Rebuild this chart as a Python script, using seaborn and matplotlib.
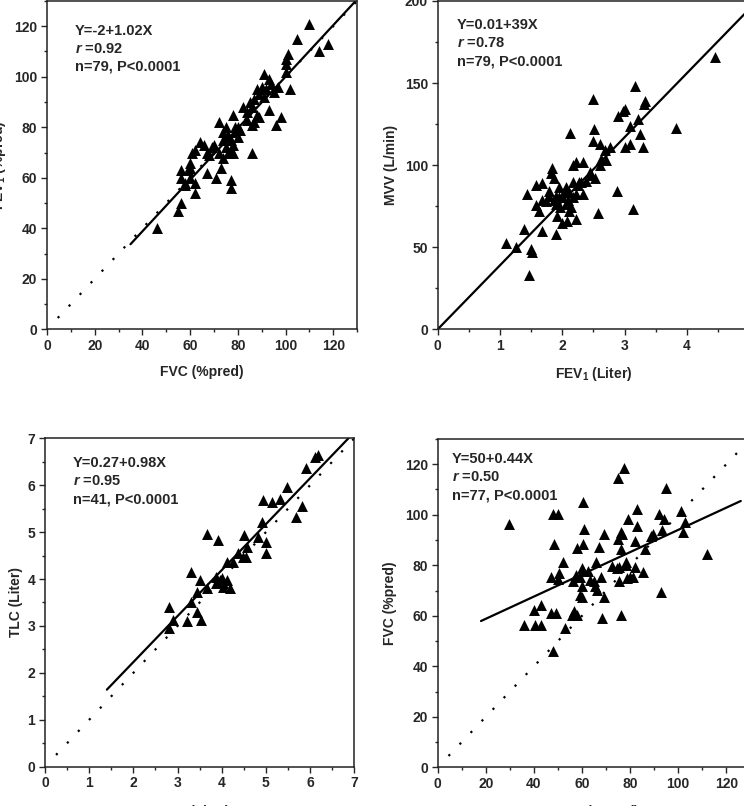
import numpy as np
import pandas as pd
import seaborn as sns
import matplotlib.pyplot as plt
from matplotlib.ticker import MultipleLocator

# --- panel A: FVC vs FEV1 (%pred) ---
fvc_a = [110, 105, 118, 114, 101, 100, 100, 100, 102, 91, 93, 94, 90, 92, 95, 97, 89, 88, 85, 87,
         86, 82, 93, 98, 96, 88, 87, 86, 89, 78, 80, 81, 79, 75, 74, 76, 77, 78, 75, 77,
         72, 76, 74, 72, 73, 70, 69, 67, 68, 64, 62, 61, 60, 60, 59, 56, 56, 60, 58, 62,
         62, 67, 71, 77, 77, 86, 56, 55, 46, 66, 80, 84, 91, 76, 74, 78, 84, 58, 79]
fev1_a = [121, 115, 113, 110, 109, 107, 105, 102, 95, 101, 99, 97, 96, 95, 94, 96, 93, 95, 90, 91,
          88, 88, 87, 84, 81, 85, 82, 81, 84, 85, 80, 79, 78, 80, 78, 77, 75, 73, 72, 71,
          82, 70, 68, 70, 64, 73, 72, 70, 69, 74, 71, 70, 66, 64, 63, 63, 60, 60, 57, 58,
          54, 62, 60, 59, 56, 70, 50, 47, 40, 73, 76, 86, 92, 76, 75, 70, 83, 58, 80]

# --- panel B: FEV1 (Liter) vs MVV ---
fev1_b = [4.45, 3.82, 3.17, 2.49, 3.01, 2.97, 3.32, 3.31, 2.89, 3.21, 3.08, 3.24, 3.29, 3.08, 3.0,
          2.51, 2.12, 2.49, 2.6, 2.76, 2.68, 2.70, 2.6, 2.46, 2.52, 2.33, 2.22, 2.17, 1.84, 1.82,
          1.68, 1.58, 1.44, 1.58, 1.63, 1.39, 1.68, 1.9, 1.09, 1.25, 1.49, 1.51, 1.46, 3.13, 2.87,
          2.57, 1.92, 2.0, 2.08, 2.1, 2.22, 1.74, 1.78, 1.9, 1.95, 2.06, 2.17, 2.27, 2.22, 2.33,
          2.11, 2.0, 2.09, 2.17, 1.9, 2.3, 2.38, 1.68, 1.78, 1.87, 1.95, 2.06, 2.14, 2.03, 1.97,
          2.25, 2.62, 2.44, 1.86]
mvv_b = [166, 122.6, 148, 140, 134, 133, 139, 137, 130, 128, 124, 119, 111, 113, 111,
         122, 119.5, 115, 113, 111, 109, 103, 100, 94, 92, 102, 102, 100, 98, 95,
         89, 88, 82.5, 76, 72, 61, 60, 58, 52.4, 50, 49, 47, 33, 73, 84.5,
         71, 69, 65, 66, 72, 67, 78, 81.5, 81.5, 86.6, 86.6, 89.6, 89.6, 82.5, 82.5,
         83.5, 80.5, 78.5, 80.5, 76.4, 89.6, 90.6, 78.5, 84.5, 78.5, 80.5, 76.4, 74.4, 83.5, 74.4,
         88, 104, 96, 92]

# --- panel C: VA vs TLC (Liter) ---
va_c = [6.18, 6.11, 5.9, 5.48, 5.81, 5.68, 4.94, 5.13, 5.32, 4.92, 4.81, 5.01, 5.0, 4.51, 4.58,
        4.49, 4.37, 4.11, 4.26, 3.66, 3.92, 3.31, 3.51, 3.66, 3.88, 3.96, 4.03, 4.11, 4.19, 4.0,
        3.43, 3.3, 3.43, 3.53, 3.21, 2.81, 2.9, 2.81, 3.88, 4.56, 4.03]
tlc_c = [6.65, 6.61, 6.36, 5.97, 5.56, 5.32, 5.69, 5.65, 5.7, 5.22, 4.9, 4.78, 4.56, 4.94, 4.69,
         4.48, 4.55, 4.37, 4.37, 4.96, 4.84, 4.14, 3.98, 3.80, 4.05, 3.98, 3.91, 3.98, 3.80, 4.02,
         3.73, 3.5, 3.3, 3.13, 3.11, 3.4, 3.13, 2.95, 3.91, 4.48, 3.84]

# --- panel D: DLco vs FVC (%pred) ---
dlco_d = [77.5, 74.9, 95.1, 29.8, 47.8, 50.0, 60.2, 61, 60.4, 48.3, 58.1, 67.1, 69, 76.2, 76.8,
          75.1, 79.1, 83, 83, 81.9, 76.1, 86.1, 88.6, 89.5, 92.1, 93.9, 93.1, 101.1, 102.9, 102.1,
          112, 92.9, 85.2, 80, 78.3, 78.3, 74.6, 75.4, 76.1, 69, 68.3, 68, 65.9, 62.6, 59.9,
          64.8, 65.5, 66.2, 59, 57.6, 56.4, 60.6, 59.8, 59.2, 59.8, 56.7, 56.0, 58, 52.9, 48,
          46.9, 50.6, 52, 50.2, 46.9, 49.1, 43, 39.9, 40.6, 42.8, 35.9, 72.3, 78.8, 81.1, 81.9,
          75.4, 63.4]
fvc_d = [118.4, 114.5, 110.5, 96.4, 100.3, 100.3, 105.2, 94.4, 88.3, 88.3, 86.7, 87.4, 92.4, 93.2, 92.4,
         90.3, 98.2, 102.2, 95.6, 89.4, 86.3, 86.6, 91.4, 92.2, 100.2, 98.2, 94, 101.3, 97.3, 93.3,
         84.4, 69.3, 77.2, 75.5, 81.1, 79.9, 78.8, 73.8, 60.3, 67.6, 59.3, 75.5, 81.1, 77.8, 78.8,
         73.9, 71.9, 70.2, 75.5, 76.2, 73.9, 77.8, 71.6, 68.3, 67.6, 61.7, 60.3, 60.3, 55, 46.2,
         75.2, 76.8, 81.1, 74.4, 61, 61, 64.3, 62.3, 56.4, 56.4, 56.4, 79.7, 74.8, 75.5, 79.5,
         79.5, 74.2]

# regression (intercept, slope, x range) and identity-line ranges per panel
panels = [
    dict(x=fvc_a, y=fev1_a, fit=(-2, 1.02), fit_x=[35, 130], ident_x=[4.5, 130],
         lim=(0, 130), xmaj=20, ymaj=20, xlabel="FVC (%pred)", ylabel="FEV$_1$ (%pred)",
         text=["Y=-2+1.02X", r"$\mathit{r}$ =0.92", "n=79, P<0.0001"]),
    dict(x=fev1_b, y=mvv_b, fit=(0.01, 39), fit_x=[0, 5], ident_x=None,
         lim=((0, 5), (0, 200)), xmaj=1, ymaj=50, xlabel="FEV$_1$ (Liter)", ylabel="MVV (L/min)",
         text=["Y=0.01+39X", r"$\mathit{r}$ =0.78", "n=79, P<0.0001"]),
    dict(x=va_c, y=tlc_c, fit=(0.27, 0.98), fit_x=[1.4, 7], ident_x=[0.25, 7],
         lim=(0, 7), xmaj=1, ymaj=1, xlabel="V$_A$ (Liter)", ylabel="TLC (Liter)",
         text=["Y=0.27+0.98X", r"$\mathit{r}$ =0.95", "n=41, P<0.0001"]),
    dict(x=dlco_d, y=fvc_d, fit=(50, 0.44), fit_x=[18, 126], ident_x=[4.5, 130],
         lim=(0, 130), xmaj=20, ymaj=20, xlabel="DL$_{CO}$ (%pred)", ylabel="FVC (%pred)",
         text=["Y=50+0.44X", r"$\mathit{r}$ =0.50", "n=77, P<0.0001"]),
]

# layout (figure fractions) and label / annotation placement
rects = [[0.0632, 0.5914, 0.4167, 0.4074], [0.5883, 0.5914, 0.4187, 0.4074],
         [0.0605, 0.0488, 0.4157, 0.4074], [0.5883, 0.0480, 0.4203, 0.4074]]
ylab_x = [-0.126, -0.128, -0.072, -0.13]
txt_pos = [(0.09, 0.91), (0.062, 0.927), (0.09, 0.924), (0.046, 0.938)]

sns.set_style("ticks")
plt.rcParams["font.family"] = ["Liberation Sans", "DejaVu Sans"]
plt.rcParams["font.weight"] = "bold"
plt.rcParams["mathtext.fontset"] = "custom"
plt.rcParams["mathtext.rm"] = "Liberation Sans:bold"
plt.rcParams["mathtext.it"] = "Liberation Sans:italic:bold"
plt.rcParams["mathtext.default"] = "rm"

fig = plt.figure(figsize=(7.44, 8.06), dpi=100)
for p, rect, yx, tp in zip(panels, rects, ylab_x, txt_pos):
    ax = fig.add_axes(rect)
    df = pd.DataFrame({"x": p["x"], "y": p["y"]})
    sns.scatterplot(data=df, x="x", y="y", marker="^", s=62, color="black",
                    linewidth=0, ax=ax, zorder=3)

    b0, b1 = p["fit"]
    fx = np.array(p["fit_x"], dtype=float)
    sns.lineplot(x=fx, y=b0 + b1 * fx, color="black", lw=1.6, ax=ax, zorder=2)
    if p["ident_x"] is not None:
        ix = np.array(p["ident_x"], dtype=float)
        ax.plot(ix, ix, color="black", lw=1.6, linestyle=(0, (1, 6.2)),
                dash_capstyle="butt", zorder=1)

    lim = p["lim"]
    xl, yl = (lim, lim) if np.isscalar(lim[0]) else lim
    ax.set_xlim(*xl)
    ax.set_ylim(*yl)
    ax.xaxis.set_major_locator(MultipleLocator(p["xmaj"]))
    ax.xaxis.set_minor_locator(MultipleLocator(p["xmaj"] / 2))
    ax.yaxis.set_major_locator(MultipleLocator(p["ymaj"]))
    ax.yaxis.set_minor_locator(MultipleLocator(p["ymaj"] / 2))
    ax.tick_params(which="major", length=4.5, width=1, labelsize=10, direction="out", pad=2.5)
    ax.tick_params(which="minor", length=2.5, width=1, direction="out")
    for lab in ax.get_xticklabels() + ax.get_yticklabels():
        lab.set_fontweight("bold")
    for sp in ax.spines.values():
        sp.set_visible(True)
        sp.set_linewidth(1.1)
        sp.set_color("#222222")

    ax.set_xlabel(p["xlabel"], fontsize=10, fontweight="bold")
    ax.set_ylabel(p["ylabel"], fontsize=10, fontweight="bold")
    ax.xaxis.set_label_coords(0.5, -0.11)
    ax.yaxis.set_label_coords(yx, 0.5)

    for i, line in enumerate(p["text"]):
        ax.text(tp[0], tp[1] - i * 0.055, line, transform=ax.transAxes, ha="left",
                va="center", fontsize=10.5, fontweight="bold")

fig.savefig("out.png", dpi=100)
